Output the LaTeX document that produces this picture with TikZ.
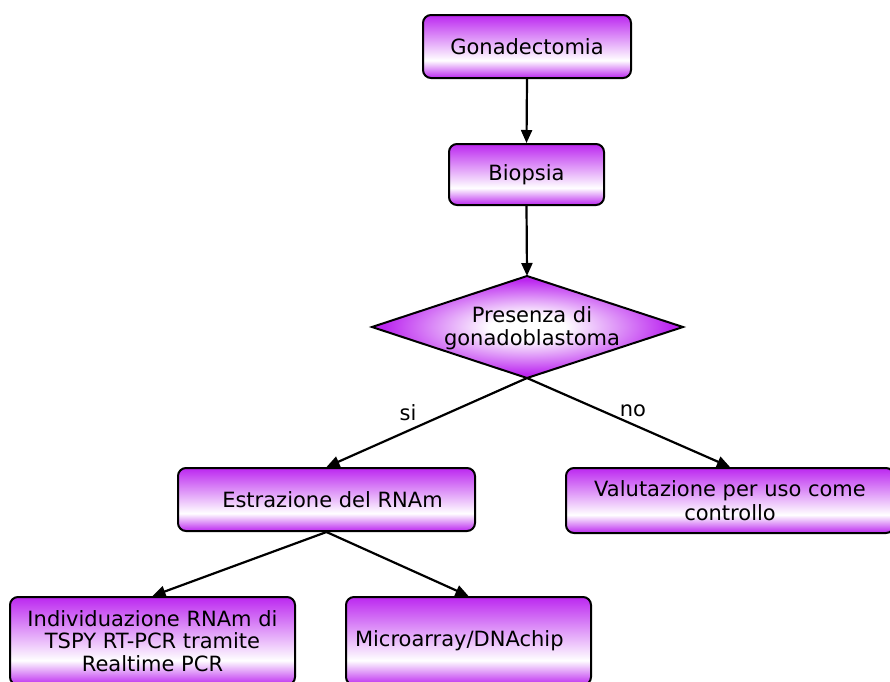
\documentclass[tikz,border=0pt]{standalone}
\usepackage{fontspec}
\setmainfont{DejaVu Sans}
\usetikzlibrary{arrows.meta}
\definecolor{pp}{RGB}{188,40,240}
% box fill: purple at top and bottom edge, white a little above the bottom
\pgfdeclareverticalshading{boxshade}{100bp}{color(0bp)=(pp); color(25bp)=(pp); color(39bp)=(white); color(75bp)=(pp); color(100bp)=(pp)}
% decision fill: white centre fading to purple
\pgfdeclareradialshading{diashade}{\pgfpoint{0bp}{0bp}}{color(0bp)=(white); color(6bp)=(white); color(23bp)=(pp); color(50bp)=(pp)}
\tikzset{
  box/.style={draw, line width=2pt, rounded corners=8pt, shading=boxshade,
    inner sep=0pt, align=center},
  arr/.style={line width=2.2pt, -{Triangle[length=13pt,width=11pt]}},
  lbl/.style={inner sep=0pt}
}
\begin{document}
\begin{tikzpicture}[x=1pt, y=-1pt, font=\fontsize{21}{23.5}\selectfont]
\clip (0,0) rectangle (890,681);
\fill[white] (0,0) rectangle (890,681);

\node[box, minimum width=208pt, minimum height=63pt] (g) at (527,46.5) {Gonadectomia};
\node[box, minimum width=155pt, minimum height=61pt] (b) at (526.5,174.5) {Biopsia};

% decision diamond
\coordinate (ql) at (372,327);
\coordinate (qt) at (527,276);
\coordinate (qr) at (683,327);
\coordinate (qb) at (527,378);
\path[draw, line width=2pt, shading=diashade] (ql) -- (qt) -- (qr) -- (qb) -- cycle;
\node[align=center, inner sep=0pt] (q) at (532,328) {Presenza di\\gonadoblastoma};

\node[box, minimum width=297pt, minimum height=63pt] (e) at (326.5,499.5) {\hspace*{12pt}Estrazione del RNAm};
\node[box, minimum width=328pt, minimum height=65pt] (v) at (730,500.5) {Valutazione per uso come\\controllo};
\node[box, minimum width=285pt, minimum height=88pt, font=\fontsize{21}{22.5}\selectfont] (i) at (152.5,641) {Individuazione RNAm di\\TSPY RT-PCR tramite\\Realtime PCR};
\node[box, minimum width=245pt, minimum height=88pt, text width=227pt, inner xsep=9pt, align=left] (m) at (468.5,641) {Microarray/DNAchip};

\draw[arr] (g.south) -- (b.north);
\draw[arr] (b.south) -- (qt);
\draw[arr] (qb) -- (e.north);
\draw[arr] (qb) -- (v.north);
\draw[arr] (e.south) -- (i.north);
\draw[arr] (e.south) -- (m.north);

\node[lbl] (si) at (408,413) {si};
\node[lbl] (no) at (633,411) {no};
\end{tikzpicture}
\end{document}
